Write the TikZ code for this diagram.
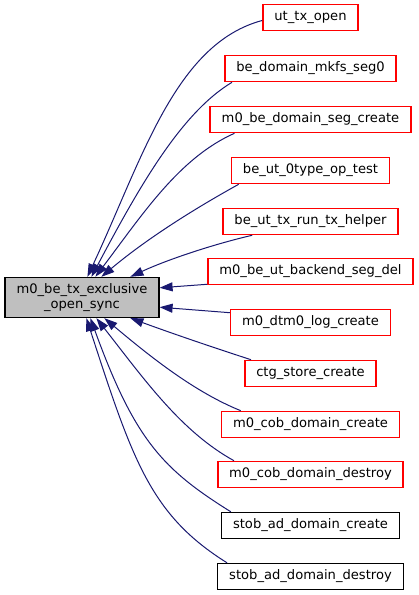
\documentclass[tikz,border=0pt]{standalone}
\usepackage{fontspec}
\setmainfont{DejaVu Sans}
\usetikzlibrary{arrows.meta,calc}

\definecolor{edgeblue}{HTML}{191970}
\definecolor{boxred}{HTML}{FF0000}
\definecolor{maingray}{HTML}{BFBFBF}

\tikzset{
  fnbox/.style={draw=boxred, line width=1.6pt, minimum height=26pt, inner xsep=11.5pt,
    inner ysep=0pt, font=\fontsize{13.1}{15}\selectfont},
  leafbox/.style={fnbox, draw=black, line width=1.4pt},
  mainbox/.style={fnbox, draw=black, line width=1.4pt, fill=maingray, align=center, minimum height=40pt},
  call/.style={edgeblue, line width=1pt, -{Triangle[length=13pt,width=9pt]}}
}

\begin{document}
\begin{tikzpicture}[x=1pt, y=1pt]
  \useasboundingbox (0,0) rectangle (419,595);
  % callee
  \node[mainbox] (main) at (82,297.5) {m0\_be\_tx\_exclusive\\\_open\_sync};
  % callers
  \node[fnbox]   (ut)      at (310.5,577.5) {ut\_tx\_open};
  \node[fnbox]   (mkfs)    at (310.5,526.5) {be\_domain\_mkfs\_seg0};
  \node[fnbox]   (segc)    at (310.5,475.5) {m0\_be\_domain\_seg\_create};
  \node[fnbox]   (otype)   at (310.5,424.5) {be\_ut\_0type\_op\_test};
  \node[fnbox]   (helper)  at (310.5,373.5) {be\_ut\_tx\_run\_tx\_helper};
  \node[fnbox]   (backend) at (310.5,323.5) {m0\_be\_ut\_backend\_seg\_del};
  \node[fnbox]   (dtm)     at (310.5,272.5) {m0\_dtm0\_log\_create};
  \node[fnbox]   (ctg)     at (310.5,221.5) {ctg\_store\_create};
  \node[fnbox]   (cobc)    at (310.5,170.5) {m0\_cob\_domain\_create};
  \node[fnbox]   (cobd)    at (310.5,120.5) {m0\_cob\_domain\_destroy};
  \node[leafbox] (stobc)   at (310.5,69.5)  {stob\_ad\_domain\_create};
  \node[leafbox] (stobd)   at (310.5,18.5)  {stob\_ad\_domain\_destroy};
  % edges
  \draw[call] ($(ut.west)+(0,-3)$) .. controls +(195:90) and +(65:130) .. ($(main.north west)+(83,0)$);
  \draw[call] ($(mkfs.south west)+(8,0)$) .. controls +(211:60) and +(62:100) .. ($(main.north west)+(87,0)$);
  \draw[call] ($(segc.south west)+(25,0)$) .. controls +(204:60) and +(53:80) .. ($(main.north west)+(91,0)$);
  \draw[call] ($(otype.south west)+(8,0)$) .. controls +(209:50) and +(40:60) .. ($(main.north west)+(97,0)$);
  \draw[call] ($(helper.south west)+(30,0)$) .. controls +(193:40) and +(25:40) .. ($(main.north west)+(126,0)$);
  \draw[call] ($(backend.south west)+(0,1)$) -- ($(main.north east)+(0,-11)$);
  \draw[call] ($(dtm.north west)+(0,-4)$) -- ($(main.south east)+(0,11)$);
  \draw[call] ($(ctg.north west)+(7,0)$) .. controls +(162:45) and +(-20:45) .. ($(main.south west)+(126,0)$);
  \draw[call] ($(cobc.north west)+(20,0)$) .. controls +(158:50) and +(-40:60) .. ($(main.south west)+(100,0)$);
  \draw[call] ($(cobd.north west)+(17,0)$) .. controls +(151:60) and +(-52:80) .. ($(main.south west)+(92,0)$);
  \draw[call] ($(stobc.north west)+(10,0)$) .. controls +(148:80) and +(-70:130) .. ($(main.south west)+(86,0)$);
  \draw[call] ($(stobd.north west)+(10,0)$) .. controls +(148:90) and +(-72:150) .. ($(main.south west)+(82,0)$);
\end{tikzpicture}
\end{document}
